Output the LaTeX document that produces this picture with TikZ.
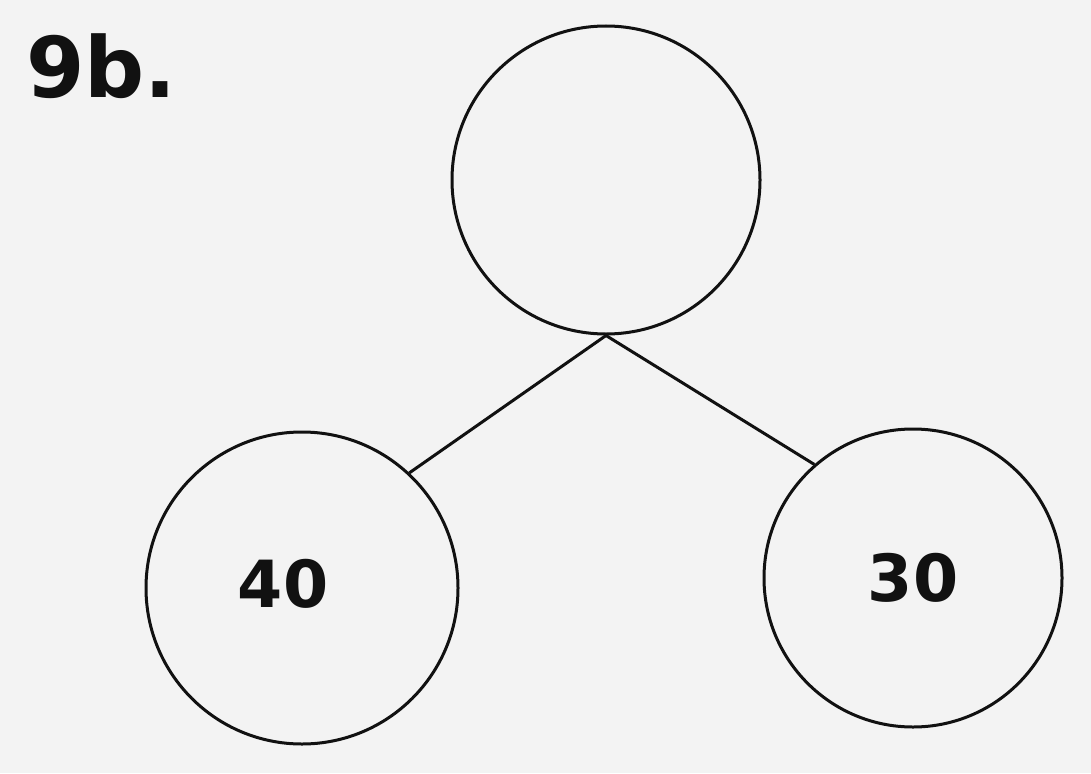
\documentclass[tikz,border=0pt]{standalone}
\usepackage{fontspec}
\setmainfont{DejaVu Sans}
\definecolor{paper}{HTML}{F3F3F3}
\definecolor{ink}{HTML}{111111}
\begin{document}
\begin{tikzpicture}[x=1pt,y=-1pt,
  bubble/.style={circle,draw=ink,line width=3pt,minimum size=308pt,inner sep=0pt,
    font=\fontsize{65}{72}\selectfont\bfseries,text=ink},
  link/.style={draw=ink,line width=3pt}]
\fill[paper] (0,0) rectangle (1091,773);
\useasboundingbox (0,0) rectangle (1091,773);
\node[anchor=west,font=\fontsize{84}{90}\selectfont\bfseries,text=ink,inner sep=0pt] (lbl) at (26,66) {9b.};
\node[bubble] (top) at (606,180) {};
\node[bubble,minimum size=312pt] (left) at (302,588) {\hspace*{-38pt}\raisebox{9pt}{40}};
\node[bubble,minimum size=298pt] (right) at (913,578) {\raisebox{-2pt}{30}};
\draw[link] (top.south) -- (left.47);
\draw[link] (top.south) -- (right.131);
\end{tikzpicture}
\end{document}
